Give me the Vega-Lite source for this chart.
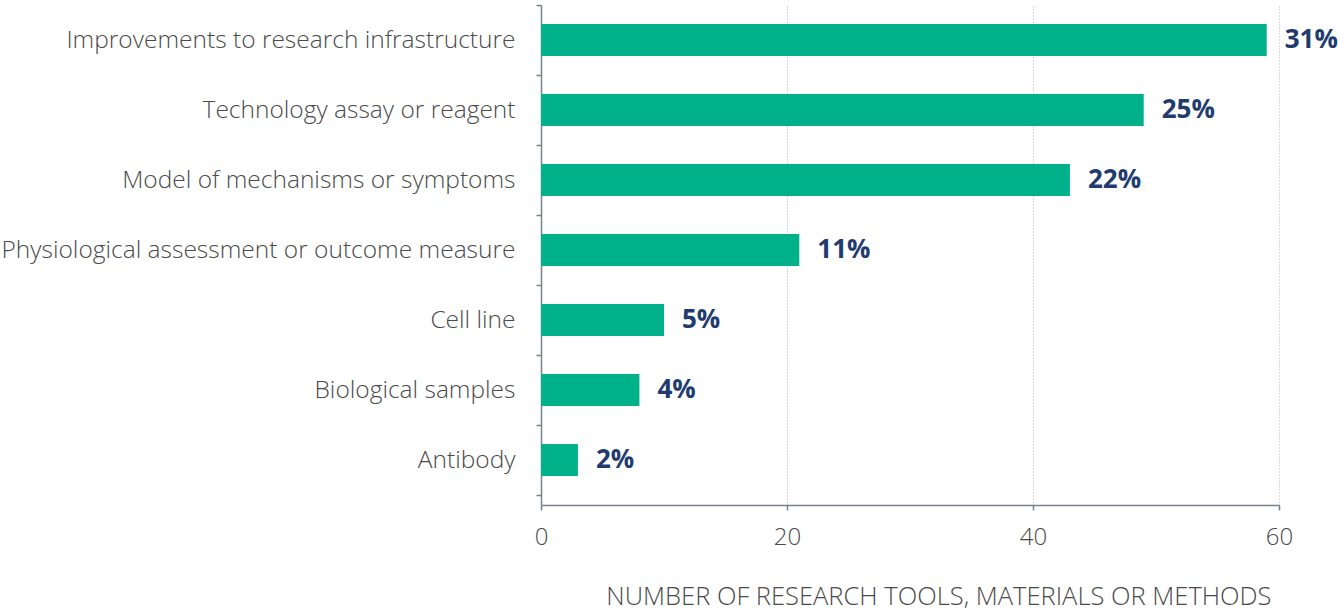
{
  "$schema": "https://vega.github.io/schema/vega-lite/v6.json",
  "width": 738,
  "height": 500,
  "autosize": "none",
  "padding": {"left": 541, "top": 5, "right": 59, "bottom": 108},
  "background": "white",
  "config": {"view": {"stroke": null}},
  "data": {
    "values": [
      {"category": "Improvements to research infrastructure", "count": 59, "pct": "31%"},
      {"category": "Technology assay or reagent", "count": 49, "pct": "25%"},
      {"category": "Model of mechanisms or symptoms", "count": 43, "pct": "22%"},
      {"category": "Physiological assessment or outcome measure", "count": 21, "pct": "11%"},
      {"category": "Cell line", "count": 10, "pct": "5%"},
      {"category": "Biological samples", "count": 8, "pct": "4%"},
      {"category": "Antibody", "count": 3, "pct": "2%"}
    ]
  },
  "encoding": {
    "y": {
      "field": "category",
      "type": "nominal",
      "sort": null,
      "scale": {"paddingInner": 0, "paddingOuter": 0.0714, "align": 0},
      "axis": {
        "title": null,
        "domainColor": "#74838f",
        "domainWidth": 1.5,
        "tickColor": "#74838f",
        "tickWidth": 1.5,
        "tickSize": 5,
        "tickBand": "extent",
        "labelFont": "Open Sans",
        "labelFontWeight": 300,
        "labelFontSize": 24.5,
        "labelColor": "#4a4a4a",
        "labelPadding": 21,
        "labelLimit": 600
      }
    },
    "x": {
      "field": "count",
      "type": "quantitative",
      "scale": {"domain": [0, 60]},
      "axis": {
        "values": [0, 20, 40, 60],
        "title": "NUMBER OF RESEARCH TOOLS, MATERIALS OR METHODS",
        "titleFont": "Open Sans",
        "titleFontWeight": 300,
        "titleFontSize": 25.5,
        "titleColor": "#4a4a4a",
        "titleX": 730,
        "titleAlign": "right",
        "titlePadding": 35,
        "domainColor": "#74838f",
        "domainWidth": 1.5,
        "tickColor": "#74838f",
        "tickWidth": 1.5,
        "tickSize": 5,
        "labelFont": "Open Sans",
        "labelFontWeight": 300,
        "labelFontSize": 24,
        "labelColor": "#4a4a4a",
        "labelPadding": 15,
        "labelFlush": false,
        "grid": true,
        "gridColor": "#aab6c2",
        "gridDash": [1, 2],
        "gridWidth": 1
      }
    }
  },
  "layer": [
    {"mark": {"type": "bar", "color": "#00b189", "height": {"band": 0.457}}},
    {
      "mark": {
        "type": "text",
        "align": "left",
        "baseline": "middle",
        "dx": 18,
        "font": "Open Sans",
        "fontWeight": "bold",
        "fontSize": 26,
        "color": "#1f3b6f"
      },
      "encoding": {"text": {"field": "pct"}}
    }
  ]
}
